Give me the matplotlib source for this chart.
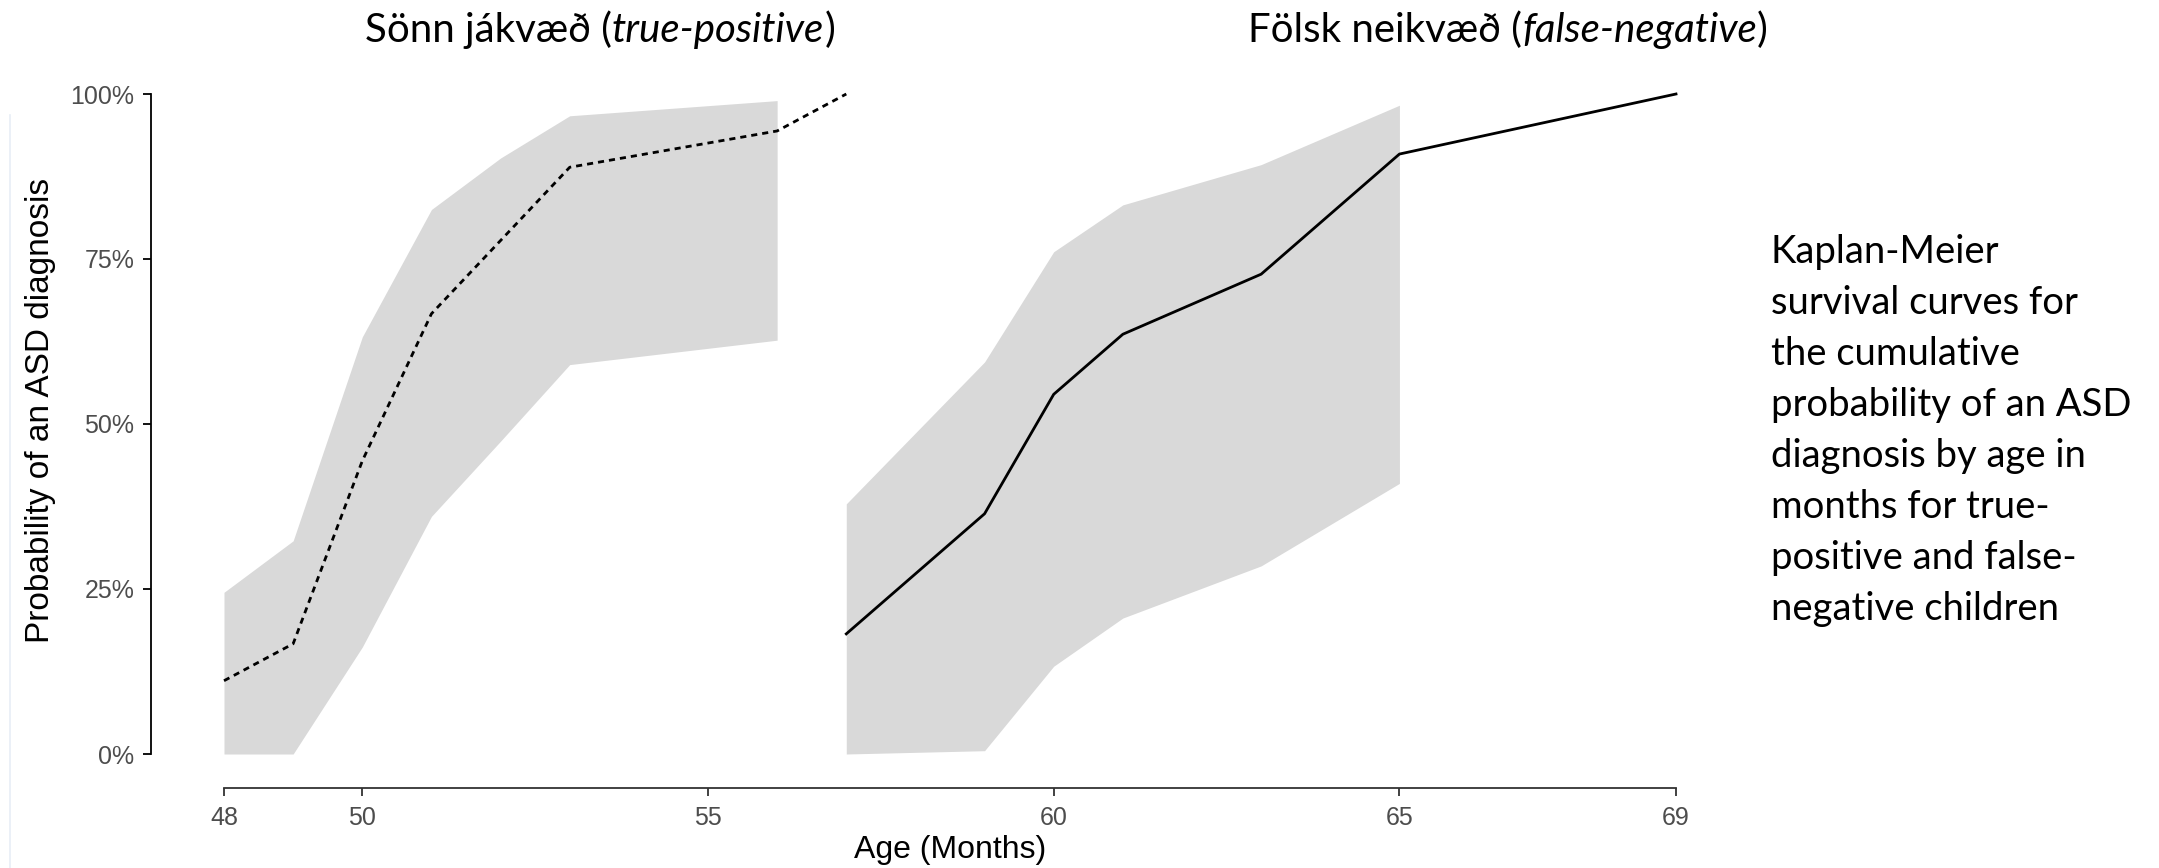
import matplotlib
matplotlib.use("Agg")
import matplotlib.pyplot as plt
from matplotlib.lines import Line2D

W, H = 2159, 868

# true-positive (Sönn jákvæð)
tp_time = [48, 49, 50, 51, 52, 53, 56, 57]
tp_prob = [0.111, 0.167, 0.444, 0.667, 0.778, 0.889, 0.944, 1.0]
tp_ci_time = [48, 49, 50, 51, 52, 53, 56]
tp_upper = [0.245, 0.323, 0.632, 0.825, 0.903, 0.967, 0.99]
tp_lower = [0.0, 0.0, 0.162, 0.36, 0.474, 0.59, 0.627]

# false-negative (Fölsk neikvæð)
fn_time = [57, 59, 60, 61, 63, 65, 69]
fn_prob = [0.182, 0.364, 0.545, 0.636, 0.727, 0.909, 1.0]
fn_ci_time = [57, 59, 60, 61, 63, 65]
fn_upper = [0.379, 0.594, 0.761, 0.832, 0.893, 0.983]
fn_lower = [0.0, 0.005, 0.133, 0.206, 0.285, 0.41]

x_ticks = [48, 50, 55, 60, 65, 69]
y_ticks = [0, 0.25, 0.5, 0.75, 1.0]
y_tick_labels = ["0%", "25%", "50%", "75%", "100%"]

caption = ["Kaplan-Meier", "survival curves for", "the cumulative",
           "probability of an ASD", "diagnosis by age in",
           "months for true-", "positive and false-", "negative children"]

fig = plt.figure(figsize=(W / 100, H / 100), dpi=100)

# axes placed in pixels: y spine at x=151, 48 -> 224, 69 -> 1676
px_per_month = (1676 - 224) / 21
left, right = 151, 1692
top, bottom = 81, 788
ax = fig.add_axes([left / W, 1 - bottom / H, (right - left) / W, (bottom - top) / H])
ax.set_xlim(48 - (224 - left) / px_per_month, 69 + (right - 1676) / px_per_month)
ax.set_ylim(-(bottom - 754) / 660, 1 + (94 - top) / 660)

band = "#d9d9d9"
ax.fill_between(tp_ci_time, tp_lower, tp_upper, color=band, lw=0)
ax.fill_between(fn_ci_time, fn_lower, fn_upper, color=band, lw=0)
ax.plot(tp_time, tp_prob, color="black", lw=2.0, linestyle=(0, (2.2, 1.8)))
ax.plot(fn_time, fn_prob, color="black", lw=2.0)

for s in ["top", "right"]:
    ax.spines[s].set_visible(False)
ax.spines["left"].set_bounds(0, 1)
ax.spines["left"].set_linewidth(1.3)
ax.spines["left"].set_color("black")
ax.spines["bottom"].set_bounds(48, 69)
ax.spines["bottom"].set_linewidth(1.3)
ax.spines["bottom"].set_color("#333333")

ax.set_xticks(x_ticks)
ax.set_xticklabels([str(t) for t in x_ticks])
ax.set_yticks(y_ticks)
ax.set_yticklabels(y_tick_labels)
ax.tick_params(axis="y", length=6, width=1.3, color="black", pad=6,
               labelsize=18, labelcolor="#4d4d4d")
ax.tick_params(axis="x", length=6, width=1.3, color="#333333", pad=7,
               labelsize=18, labelcolor="#4d4d4d")
for lab in ax.get_xticklabels() + ax.get_yticklabels():
    lab.set_fontfamily("Liberation Sans")

fig.text(950 / W, 1 - 850 / H, "Age (Months)", ha="center", va="center",
         fontsize=23, family="Liberation Sans")
fig.text(41 / W, 1 - 410 / H, "Probability of an ASD diagnosis", ha="center",
         va="center", rotation=90, fontsize=24, family="Liberation Sans")


def chain_title(x_px, parts):
    # normal / italic pieces placed one after another
    prev = fig.text(x_px / W, 1 - 42 / H, parts[0][0], ha="left", va="baseline",
                    fontsize=29, family="Lato", style=parts[0][1])
    for txt, style in parts[1:]:
        prev = plt.annotate(txt, xy=(1, 0), xycoords=prev, xytext=(0, 0),
                            textcoords="offset points", ha="left", va="bottom",
                            fontsize=29, family="Lato", style=style,
                            annotation_clip=False)


chain_title(365, [("Sönn jákvæð (", "normal"), ("true-positive", "italic"), (")", "normal")])
chain_title(1248, [("Fölsk neikvæð (", "normal"), ("false-negative", "italic"), (")", "normal")])

for i, line in enumerate(caption):
    fig.text(1771 / W, 1 - (263 + i * 51) / H, line, ha="left", va="baseline",
             fontsize=27.5, family="Lato")

fig.add_artist(Line2D([10 / W, 10 / W], [0, 1 - 115 / H], color="#e8eef6", lw=1.2))

fig.savefig("out.png", dpi=100)
